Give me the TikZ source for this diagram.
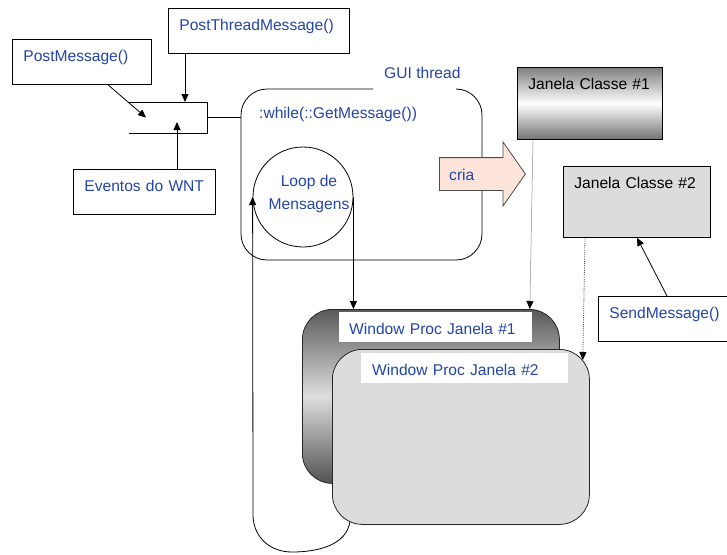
\documentclass[tikz,border=0pt]{standalone}
\usepackage{fontspec}
\setmainfont{Liberation Sans}
\usetikzlibrary{arrows.meta, shapes.arrows, positioning}
\definecolor{azul}{RGB}{35,68,168}
\definecolor{rosa}{RGB}{253,228,218}
\definecolor{cinza}{RGB}{220,220,220}

\begin{document}
\begin{tikzpicture}[x=1pt, y=-1pt,
	every node/.style={font=\fontsize{15.6}{23}\selectfont},
	caixa/.style 2 args={draw, line width=0.8pt, anchor=north west, align=left, inner xsep=11pt, inner ysep=0pt, text width=#1pt, text height=21.6pt, text depth=#2pt},
	etiq/.style 2 args={fill=white, align=left, inner xsep=#1pt, inner ysep=0pt, text width=#2pt, text height=22pt, text depth=8pt, text=azul},
	janela/.style={draw=black!85, line width=0.8pt, rounded corners=30pt, anchor=north west, minimum width=257pt},
	rotulo/.style={text=azul, inner sep=0pt},
	seta/.style={line width=0.8pt, -{Triangle[length=8pt,width=7pt]}}]
		\clip (0,0) rectangle (727,554);
		
		\node[caixa={117}{23.4}, text=azul] (pm) at (12,39) {PostMessage()};
		\node[caixa={159}{23.4}, text=azul] (ptm) at (168,8) {PostThreadMessage()};
		\node[caixa={120}{23.4}, text=azul] (ev) at (73,169) {Eventos do WNT};
		\node[minimum width=78pt, minimum height=31pt, inner sep=0pt, outer sep=0pt, anchor=north west] (fila) at (129,102) {};
		
		\node[minimum width=241pt, minimum height=171pt, outer sep=0pt, anchor=north west] (gui) at (241,89) {};
		\node[rotulo, anchor=base west] (guitit) at (384,78.6) {GUI thread};
		\node[rotulo, anchor=base west] (enquanto) at ([shift={(18,29.6)}]gui.north west) {:while(::GetMessage())};
		\node[draw, circle, line width=0.8pt, minimum size=100pt, inner sep=0pt] (laco) at (303,197) {};
		\node[rotulo, align=center] (lacotxt) at (309,194) {Loop de\\Mensagens};
		
		\draw[line width=0.8pt, rounded corners=26pt] ([xshift=11.5pt]gui.north) -| (gui.south west) -| (gui.north east) -- ([xshift=-26pt]gui.north east);
		\draw[line width=0.8pt] (fila.north west) -- (fila.north east) -- (fila.south east) -- (fila.south west);
		\draw[line width=0.8pt] (fila.east) -- (fila.east -| gui.west);
		\draw[seta] ([xshift=96pt]pm.south west) -- ([xshift=17pt]fila.west);
		\draw[seta] ([xshift=17pt]ptm.south west) -- ([xshift=17pt]ptm.south west |- fila.north);
		\draw[seta] ([xshift=104pt]ev.north west) -- ([xshift=48pt,yshift=11pt]fila.south west);
		
		\coordinate (lacobase) at (350,521);
		\draw[seta] (lacobase) .. controls (347,545) and (318,552) .. (292,552) .. controls (268,552) and (253,535) .. (253,515) -- (laco.west);
		
		\node[single arrow, draw=black!70, fill=rosa, line width=0.8pt, minimum height=86pt, single arrow head extend=15.5pt, single arrow tip angle=110, inner sep=0pt, text height=16pt, text depth=16pt, anchor=tail] (cria) at (439,174) {};
		\node[rotulo, anchor=base west] (criatxt) at ([xshift=10pt, yshift=-6pt]cria.tail) {cria};
		
		\node[caixa={123}{50.4}, top color=black!50, bottom color=black!55, middle color=white] (j1) at (517,67) {Janela Classe \#1};
		\node[caixa={125}{49.4}, fill=cinza] (j2) at (563,166) {Janela Classe \#2};
		\node[caixa={118}{23.4}, text=azul] (send) at (598,296) {SendMessage()};
		
		\node[janela, minimum height=174pt, top color=black!65, bottom color=black!68, middle color=black!13] (wp1) at (302,309) {};
		\node[etiq={10}{173}, below right=3pt and 37pt of wp1.north west] (wp1rot) {Window Proc Janela \#1};
		\node[janela, minimum height=175pt, fill=cinza, below right=40pt and 30pt of wp1.north west] (wp2) {};
		\node[etiq={11}{185}, below right=4pt and 29pt of wp2.north west] (wp2rot) {Window Proc Janela \#2};
		
		\draw[seta] (laco.east) -- (laco.east |- wp1.north);
		\draw[black!45, line width=0.5pt, -{Triangle[length=8pt,width=7pt,black]}] ([xshift=16pt]j1.south west) -- ([xshift=-30pt]wp1.north east);
		\draw[densely dotted, black!70, line width=0.8pt, -{Triangle[length=8pt,width=7pt,black]}] ([xshift=22pt]j2.south west) -- ([xshift=-7pt,yshift=-11pt]wp2.north east);
		\draw[seta] ([xshift=69pt]send.north west) -- ([xshift=74pt]j2.south west);
\end{tikzpicture}
\end{document}
